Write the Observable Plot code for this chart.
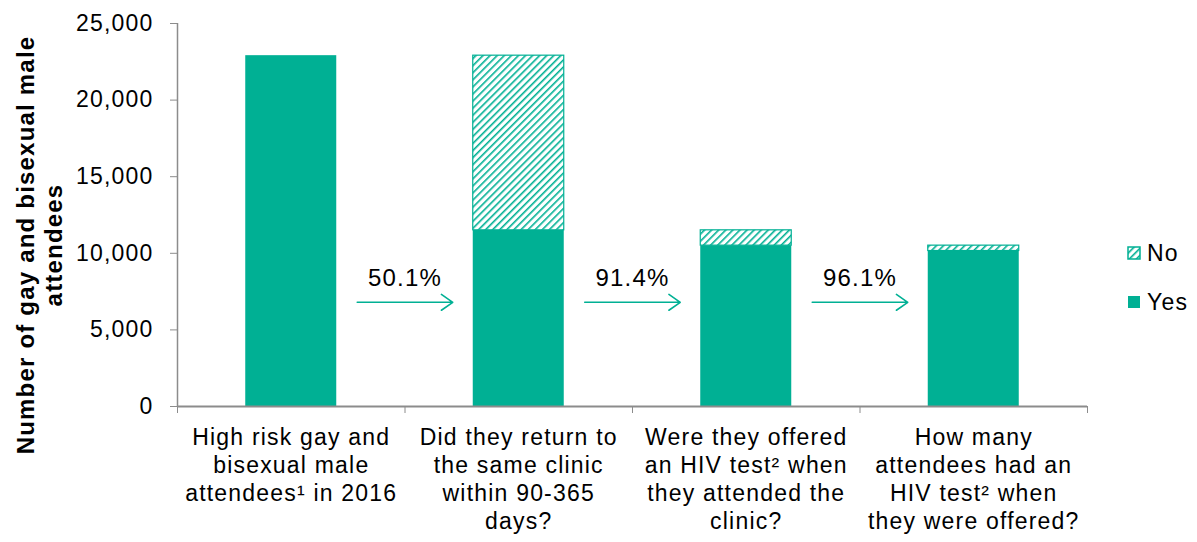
<!DOCTYPE html>
<html>
<head>
<meta charset="utf-8">
<script src="https://cdn.jsdelivr.net/npm/d3@7"></script>
<script src="https://cdn.jsdelivr.net/npm/@observablehq/plot@0.6"></script>
<style>
  html, body { margin: 0; padding: 0; background: #fff; }
  #wrap { position: relative; width: 1197px; height: 542px; overflow: hidden; font-family: "Liberation Sans", Arial, sans-serif; }
  #legend { position: absolute; left: 1127px; top: 238px; font-size: 23px; letter-spacing: 1.2px; color: #000; }
  #legend .item { display: flex; align-items: center; height: 30px; margin-bottom: 19px; }
  #legend svg { margin-right: 6px; }
</style>
</head>
<body>
<div id="wrap"></div>
<script>
// ---- data ----
const categories = [
  "High risk gay and\nbisexual male\nattendees¹ in 2016",
  "Did they return to\nthe same clinic\nwithin 90-365\ndays?",
  "Were they offered\nan HIV test² when\nthey attended the\nclinic?",
  "How many\nattendees had an\nHIV test² when\nthey were offered?"
];
const yesValues = [22900, 11500, 10500, 10150];
const noValues  = [0, 11400, 1000, 350];
const stepLabels = ["50.1%", "91.4%", "96.1%"];
const yTicks = [0, 5000, 10000, 15000, 20000, 25000];
const yLabelLines = ["Number of gay and bisexual male", "attendees"];
const seriesNames = ["No", "Yes"];

// ---- build table ----
const teal = "#00b094";
const gray = "#8c8c8c";
const rows = categories.map((c, i) => ({i, cat: c, yes: yesValues[i], no: noValues[i]}));
const steps = stepLabels.map((t, i) => ({b: i + 1, text: t}));
const arrowY = 6800;

const chart = Plot.plot({
  width: 1197,
  height: 542,
  marginLeft: 177,
  marginRight: 110,
  marginTop: 23,
  marginBottom: 136,
  style: {fontFamily: "'Liberation Sans', Arial, sans-serif", fontSize: "23px", letterSpacing: "1.2px", color: "#000", background: "transparent"},
  x: {domain: [0, 4]},
  y: {domain: [0, 25000]},
  marks: [
    Plot.rectY(rows, {x1: d => d.i + 0.3, x2: d => d.i + 0.7, y1: 0, y2: "yes", fill: teal}),
    Plot.rectY(rows.filter(d => d.no > 0), {x1: d => d.i + 0.3, x2: d => d.i + 0.7, y1: "yes", y2: d => d.yes + d.no, fill: "url(#hatch)", stroke: teal, strokeWidth: 1.2}),
    Plot.ruleX([0], {stroke: gray, strokeWidth: 1.5}),
    Plot.ruleY([0], {stroke: gray, strokeWidth: 2}),
    Plot.axisY({ticks: yTicks, tickFormat: d3.format(","), tickSize: 7, tickPadding: 17, stroke: gray, label: null, fontSize: 23}),
    Plot.axisX({ticks: [0, 1, 2, 3, 4], tickFormat: () => "", tickSize: 7, stroke: gray, label: null}),
    Plot.text(rows, {x: d => d.i + 0.5, y: 0, text: "cat", lineAnchor: "top", dy: 18, lineHeight: 1.23, fontSize: 23, fill: "#000"}),
    Plot.arrow(steps, {x1: d => d.b - 0.21, x2: d => d.b + 0.21, y: arrowY, stroke: teal, strokeWidth: 1.6, headLength: 13, headAngle: 70, bend: 0}),
    Plot.text(steps, {x: "b", y: arrowY, text: "text", dy: -24, fontSize: 24, fill: "#000"}),
    Plot.text([yLabelLines[0]], {frameAnchor: "left", textAnchor: "middle", lineAnchor: "middle", text: d => d, rotate: -90, dx: -151, dy: 30, fontSize: 24, fontWeight: "bold", fill: "#000"}),
    Plot.text([yLabelLines[1]], {frameAnchor: "left", textAnchor: "middle", lineAnchor: "middle", text: d => d, rotate: -90, dx: -123, dy: 30, fontSize: 24, fontWeight: "bold", fill: "#000"})
  ]
});

// hatch pattern
const defs = d3.select(chart).insert("defs", ":first-child");
const pat = defs.append("pattern")
  .attr("id", "hatch")
  .attr("patternUnits", "userSpaceOnUse")
  .attr("width", 5).attr("height", 5)
  .attr("patternTransform", "rotate(45)");
pat.append("rect").attr("width", 5).attr("height", 5).attr("fill", "#fff");
pat.append("rect").attr("x", 0).attr("width", 1.6).attr("height", 5).attr("fill", teal);

const wrap = document.getElementById("wrap");
wrap.appendChild(chart);

// legend
const legend = document.createElement("div");
legend.id = "legend";
seriesNames.forEach(name => {
  const item = document.createElement("div");
  item.className = "item";
  const sw = name === "No"
    ? `<svg width="14" height="14"><rect x="1" y="1" width="12" height="12" fill="url(#hatch)" stroke="${teal}" stroke-width="1.5"/></svg>`
    : `<svg width="14" height="14"><rect x="1" y="1" width="12" height="12" fill="${teal}"/></svg>`;
  item.innerHTML = sw + `<span>${name}</span>`;
  legend.appendChild(item);
});
wrap.appendChild(legend);
</script>
</body>
</html>
